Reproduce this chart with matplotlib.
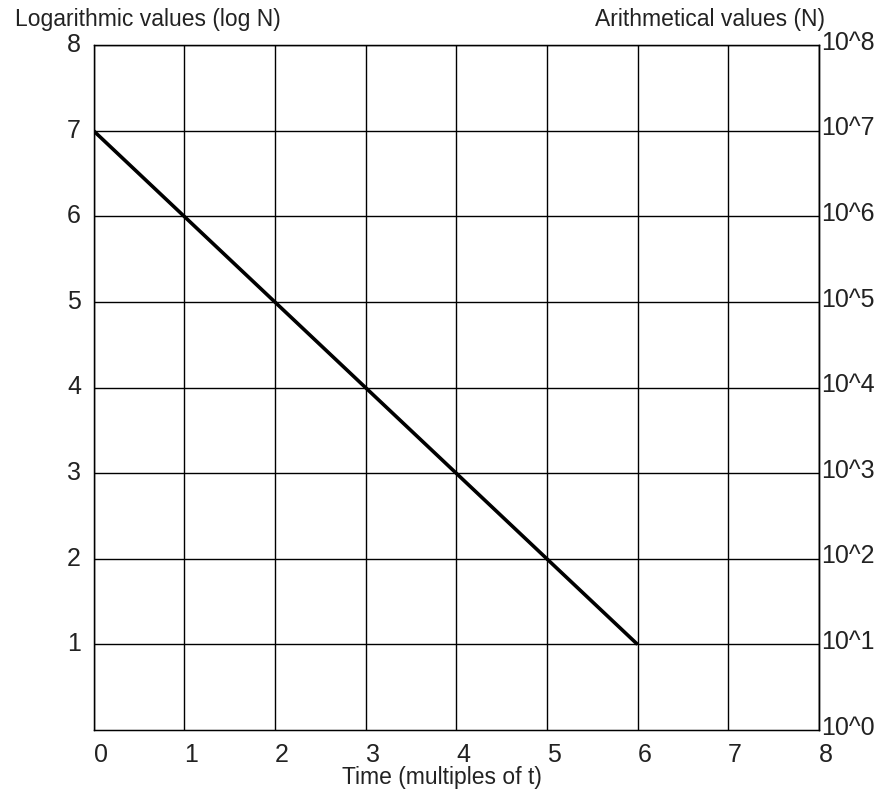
import matplotlib.pyplot as plt
from matplotlib.transforms import ScaledTranslation

plt.rcParams['font.family'] = ['Liberation Sans', 'DejaVu Sans']

# data
time = [0, 1, 2, 3, 4, 5, 6]
log_n = [7, 6, 5, 4, 3, 2, 1]
x_ticks = [0, 1, 2, 3, 4, 5, 6, 7, 8]
left_ticks = [1, 2, 3, 4, 5, 6, 7, 8]
right_ticks = [0, 1, 2, 3, 4, 5, 6, 7, 8]
right_labels = ['10^%d' % k for k in right_ticks]

fig = plt.figure(figsize=(8.91, 7.94), dpi=100)
ax = fig.add_axes([0.105, 0.0806, 0.814, 0.8625])

ax.plot(time, log_n, color='black', lw=2.6, solid_capstyle='butt', zorder=3)

ax.set_xlim(0, 8)
ax.set_ylim(0, 8)
ax.set_xticks(x_ticks)
ax.set_xticklabels([str(v) for v in x_ticks], ha='left')
ax.set_yticks(left_ticks)
ax.set_yticklabels([str(v) for v in left_ticks])
ax.tick_params(axis='x', length=0, pad=9, labelsize=18, labelcolor='#222222')
ax.tick_params(axis='y', length=0, pad=9, labelsize=18, labelcolor='#222222')
ax.grid(True, color='black', lw=1.0)
for s in ax.spines.values():
    s.set_linewidth(1.0)

# nudge left labels up a little
up2 = ScaledTranslation(0, 2 / 72, fig.dpi_scale_trans)
for lab in ax.get_yticklabels():
    lab.set_transform(lab.get_transform() + up2)

ax2 = ax.twinx()
ax2.set_ylim(0, 8)
ax2.set_yticks(right_ticks)
ax2.set_yticklabels(right_labels)
ax2.tick_params(axis='y', length=0, pad=2, labelsize=18, labelcolor='#222222')
ax2.spines['right'].set_linewidth(1.0)
up4 = ScaledTranslation(0, 3.5 / 72, fig.dpi_scale_trans)
for lab in ax2.get_yticklabels():
    lab.set_transform(lab.get_transform() + up4)

fig.text(0.017, 0.975, 'Logarithmic values (log N)', fontsize=16.5,
         ha='left', va='center', color='#222222')
fig.text(0.926, 0.975, 'Arithmetical values (N)', fontsize=16.5,
         ha='right', va='center', color='#222222')
fig.text(0.496, 0.021, 'Time (multiples of t)', fontsize=16.5,
         ha='center', va='center', color='#222222')

fig.savefig('out.png', dpi=100)
